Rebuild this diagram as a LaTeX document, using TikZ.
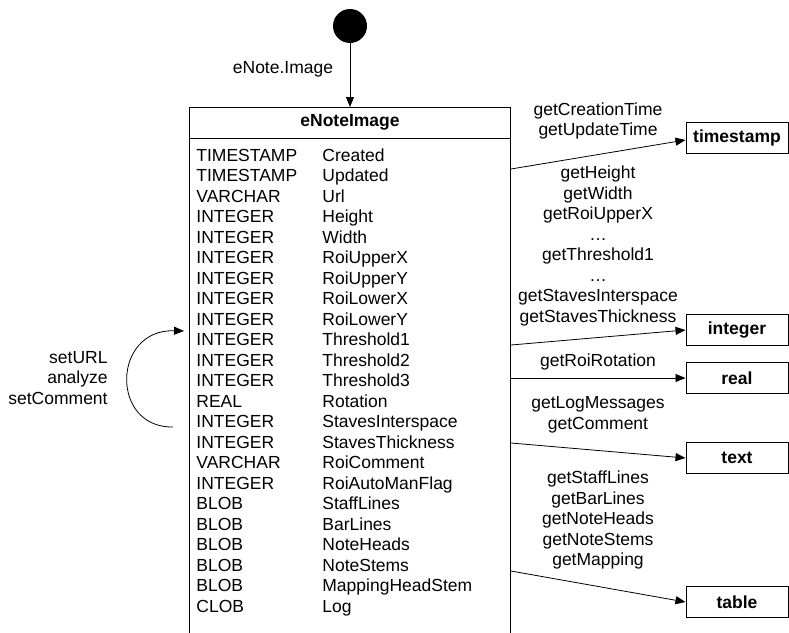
\documentclass[tikz,border=0pt]{standalone}
\usepackage{fontspec}
\setmainfont{Liberation Sans}
\usetikzlibrary{arrows.meta,positioning,shapes}

\begin{document}
\begin{tikzpicture}[x=1pt,y=-1pt,->,>={Triangle[length=10pt,width=8pt]},
                    line width=0.8pt]
  \tikzstyle{every node}=[font=\fontsize{17.5}{20.5}\selectfont]
  \tikzstyle{typebox}=[draw,line width=1pt,minimum width=102pt,minimum height=31pt,
                       inner sep=0pt,font=\fontsize{17.5}{20.5}\selectfont\bfseries]
  \tikzstyle{field}=[inner sep=0pt,anchor=base west]
  \tikzstyle{call}=[align=center,inner sep=0pt]

  \useasboundingbox (0,0) rectangle (789,632);
  \clip (0,0) rectangle (789,632);

  % start state and the table
  \node[circle,fill,minimum size=34pt,inner sep=0pt] (start) at (350,26) {};
  \node[draw,line width=1pt,minimum width=321pt,minimum height=560pt,
        inner sep=0pt,anchor=north] (img) at (350,107) {};
  \draw[-,line width=1pt] ([yshift=-31pt]img.north west) -- ([yshift=-31pt]img.north east);
  \node[font=\fontsize{17.5}{20.5}\selectfont\bfseries] (title) at (350,122) {eNoteImage};
  \node[inner sep=0pt] (entry) at (283,69) {eNote.Image};
  \draw (start) -- (img.north);

  % columns
  \foreach \t/\n [count=\i from 0] in {TIMESTAMP/Created,TIMESTAMP/Updated,VARCHAR/Url,
      INTEGER/Height,INTEGER/Width,INTEGER/RoiUpperX,INTEGER/RoiUpperY,INTEGER/RoiLowerX,
      INTEGER/RoiLowerY,INTEGER/Threshold1,INTEGER/Threshold2,INTEGER/Threshold3,
      REAL/Rotation,INTEGER/StavesInterspace,INTEGER/StavesThickness,VARCHAR/RoiComment,
      INTEGER/RoiAutoManFlag,BLOB/StaffLines,BLOB/BarLines,BLOB/NoteHeads,BLOB/NoteStems,
      BLOB/MappingHeadStem,CLOB/Log}
  {
    \node[field] (ty\i) at (196,{161+20.5*\i}) {\t};
    \node[field] (nm\i) at (322,{161+20.5*\i}) {\n};
  }

  % result types
  \node[typebox] (ts)   at (737,138) {timestamp};
  \node[typebox] (int)  at (737,330) {integer};
  \node[typebox] (real) at (737,378) {real};
  \node[typebox] (txt)  at (737,458) {text};
  \node[typebox] (tab)  at (737,602) {table};

  \draw ([yshift=-62pt]img.north east)  -- ([yshift=-2pt]ts.west);
  \draw ([yshift=-238pt]img.north east) -- (int.west);
  \draw ([yshift=-271pt]img.north east) -- (real.west);
  \draw ([yshift=-336pt]img.north east) -- (txt.west);
  \draw ([yshift=-464pt]img.north east) -- (tab.west);

  \node[call] (tsl)   at (598,121) {getCreationTime\\getUpdateTime};
  \node[call] (intl)  at (598,246) {getHeight\\getWidth\\getRoiUpperX\\\dots\\getThreshold1\\\dots\\getStavesInterspace\\getStavesThickness};
  \node[call] (reall) at (598,362) {getRoiRotation};
  \node[call] (txtl)  at (598,415) {getLogMessages\\getComment};
  \node[call] (tabl)  at (598,520) {getStaffLines\\getBarLines\\getNoteHeads\\getNoteStems\\getMapping};

  % self loop
  \coordinate (loopS) at (173,427);
  \coordinate (loopE) at (184,331);
  \draw (loopS) .. controls (110,428) and (112,329) .. (loopE);
  \node[call,align=right,anchor=east] (setl) at (108,378) {setURL\\analyze\\setComment};
\end{tikzpicture}
\end{document}
